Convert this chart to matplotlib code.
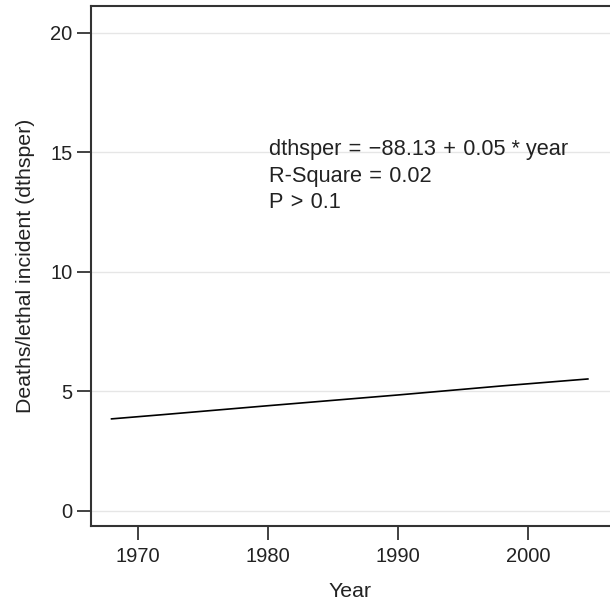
import matplotlib
matplotlib.use("Agg")
import matplotlib.pyplot as plt

years = [1968, 1972, 1980, 1990, 1998, 2004.6]
dthsper = [3.84, 4.02, 4.39, 4.84, 5.22, 5.51]
xticks = [1970, 1980, 1990, 2000]
yticks = [0, 5, 10, 15, 20]
annot = ["dthsper\u2004=\u2004\u221288.13\u2004+\u20040.05 * year",
         "R-Square\u2004=\u20040.02",
         "P\u2004>\u20040.1"]

plt.rcParams['font.family'] = ['Liberation Sans', 'DejaVu Sans']
fig = plt.figure(figsize=(6.10, 6.06), dpi=100)
left = 90.7 / 610
ax = fig.add_axes([left, (606 - 525.7) / 606, 1 - left, (525.7 - 5.7) / 606])

ax.plot(years, dthsper, color='black', lw=1.2)
ax.set_xlim(1966.4, 2006.3)
ax.set_ylim(-0.63, 21.13)
ax.set_xticks(xticks)
ax.set_yticks(yticks)
ax.yaxis.grid(True, color='#e6e6e6', lw=1)
ax.set_axisbelow(True)
for s in ['left', 'bottom', 'top']:
    ax.spines[s].set_color('#333333')
    ax.spines[s].set_linewidth(1.5)
ax.spines['right'].set_visible(False)
ax.tick_params(length=10, width=1.3, color='#333333', labelsize=14.5, labelcolor='#222222')
ax.tick_params(axis='x', pad=5)
ax.tick_params(axis='y', pad=3)
ax.set_xlabel('Year', fontsize=15.3, labelpad=12, color='#222222')
ax.set_ylabel('Deaths/lethal incident (dthsper)', fontsize=15.3, labelpad=11, color='#222222')

for txt, yv in zip(annot, [15.1, 14.0, 12.9]):
    ax.text(1980.1, yv, txt, fontsize=15.7, va='center', ha='left', color='#222222')

fig.savefig('out.png', dpi=100)
